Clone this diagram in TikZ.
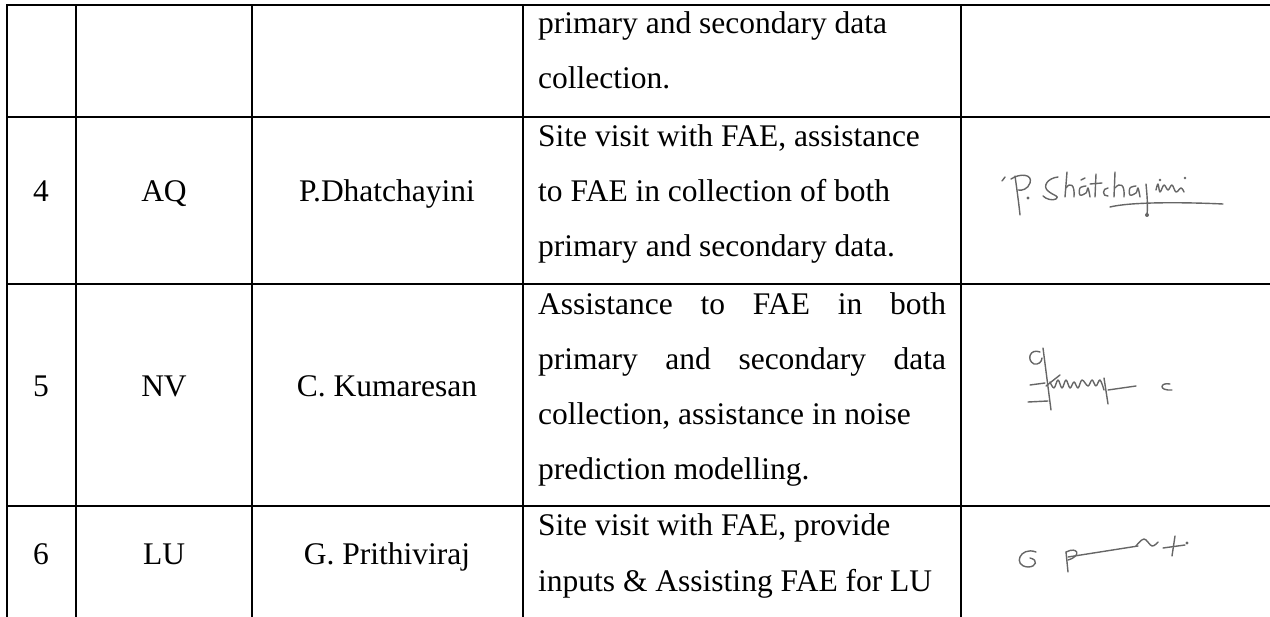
\documentclass[tikz,border=0pt]{standalone}
\usepackage{fontspec}
\setmainfont{Liberation Serif}
\usetikzlibrary{positioning}

\tikzset{
  rule/.style={line width=2.6pt, line cap=rect},
  cell/.style={font=\fontsize{31.5}{55}\selectfont, inner sep=0pt, anchor=base},
  desc/.style={cell, anchor=base west},
  sig/.style={draw=black!60, line width=1.4pt, line cap=round, line join=round},
}

\begin{document}
\begin{tikzpicture}[x=1pt,y=-1pt]
\useasboundingbox (0,0) rectangle (1270,617);

% table rules
\foreach \y in {5,117,284,506}
  \draw[rule] (7,\y) -- (1270,\y);
\foreach \x in {7,76,252,523,961}
  \draw[rule] (\x,5) -- (\x,617);

% row 3 (tail)
\node[desc] (d3a) at (538,34) {primary and secondary data};
\node[desc] (d3b) at (538,89) {collection.};

% row 4
\node[cell] (n4) at (41,202) {4};
\node[cell] (f4) at (164,202) {AQ};
\node[cell] (p4) at (387,202) {P.Dhatchayini};
\node[desc] (d4a) at (538,147) {Site visit with FAE, assistance};
\node[desc] (d4b) at (538,202) {to FAE in collection of both};
\node[desc] (d4c) at (538,257) {primary and secondary data.};

% row 5
\node[cell] (n5) at (41,397) {5};
\node[cell] (f5) at (164,397) {NV};
\node[cell] (p5) at (387,397) {C. Kumaresan};
\node[desc] (d5a) at (538,314.5) {\makebox[408pt][s]{Assistance to FAE in both}};
\node[desc] (d5b) at (538,369.5) {\makebox[408pt][s]{primary and secondary data}};
\node[desc] (d5c) at (538,424.5) {collection, assistance in noise};
\node[desc] (d5d) at (538,479.5) {prediction modelling.};

% row 6
\node[cell] (n6) at (41,564) {6};
\node[cell] (f6) at (164,564) {LU};
\node[cell] (p6) at (387,564) {G. Prithiviraj};
\node[desc] (d6a) at (538,536) {Site visit with FAE, provide};
\node[desc] (d6b) at (538,591) {inputs \& Assisting FAE for LU};

% signature, row 4
\draw[sig] (1002,181) -- (1005,177);
\draw[sig] (1015,176) .. controls (1017,190) and (1019,205) .. (1020,215);
\draw[sig] (1011,179) .. controls (1020,173) and (1033,174) .. (1030,183) .. controls (1028,189) and (1022,191) .. (1018,190);
\fill[black!60] (1028,198) circle (1.7);
\draw[sig] (1058,177) .. controls (1048,178) and (1042,186) .. (1048,191) .. controls (1054,196) and (1060,196) .. (1056,199) .. controls (1052,201) and (1046,199) .. (1043,196);
\draw[sig] (1067,172) -- (1065,197);
\draw[sig] (1066,188) .. controls (1070,182) and (1075,184) .. (1074,197);
\draw[sig] plot[smooth, tension=0.6] coordinates {(1086,186) (1080,188) (1080,195) (1086,193) (1088,188) (1090,197)};
\draw[sig] (1081,180) -- (1085,178);
\draw[sig] (1096,174) -- (1095,197);
\draw[sig] (1090,184) -- (1102,183);
\draw[sig] (1108,188) .. controls (1102,188) and (1102,197) .. (1108,196);
\draw[sig] (1115,172) -- (1114,197);
\draw[sig] (1115,188) .. controls (1120,182) and (1125,184) .. (1124,197);
\draw[sig] plot[smooth, tension=0.6] coordinates {(1136,186) (1130,188) (1130,195) (1136,193) (1138,188) (1140,197)};
\draw[sig] (1146,184) .. controls (1147,195) and (1148,205) .. (1147,215);
\fill[black!60] (1147,215) circle (2);
\draw[sig] plot[smooth, tension=0.6] coordinates {(1156,190) (1158,184) (1160,192) (1164,185) (1168,190) (1172,185) (1176,192) (1181,188) (1184,192)};
\fill[black!60] (1160,180) circle (1.3);
\fill[black!60] (1185,178) circle (1.3);
\draw[sig] (1110,207) .. controls (1130,202) and (1180,202) .. (1223,204);

% signature, row 5
\draw[sig] (1040,352) .. controls (1030,348) and (1026,360) .. (1034,364) .. controls (1038,365) and (1042,362) .. (1042,358);
\draw[sig] (1043,348) -- (1051,410);
\draw[sig] (1030,385) -- (1045,383);
\draw[sig] (1046,386) -- (1060,375);
\draw[sig] plot[smooth, tension=0.6] coordinates {(1050,382) (1054,388) (1058,380) (1062,388) (1066,380) (1070,388) (1074,382) (1078,388) (1082,380) (1088,386) (1092,380) (1096,386) (1100,380) (1104,390)};
\draw[sig] (1104,378) -- (1108,404);
\draw[sig] (1108,390) -- (1136,386);
\draw[sig] (1028,402) -- (1048,401);
\draw[sig] (1170,384) .. controls (1160,382) and (1158,391) .. (1172,390);

% signature, row 6
\draw[sig] (1036,552) .. controls (1020,546) and (1012,566) .. (1028,567) .. controls (1036,567) and (1039,560) .. (1030,558);
\draw[sig] (1066,552) -- (1068,572);
\draw[sig] (1066,552) .. controls (1078,546) and (1082,556) .. (1068,560);
\draw[sig] (1068,557) -- (1138,546);
\draw[sig] plot[smooth, tension=0.6] coordinates {(1136,546) (1144,539) (1152,546) (1158,542)};
\draw[sig] (1163,548) -- (1185,545);
\draw[sig] (1175,536) -- (1172,556);
\fill[black!60] (1187,543) circle (1.6);
\end{tikzpicture}
\end{document}
